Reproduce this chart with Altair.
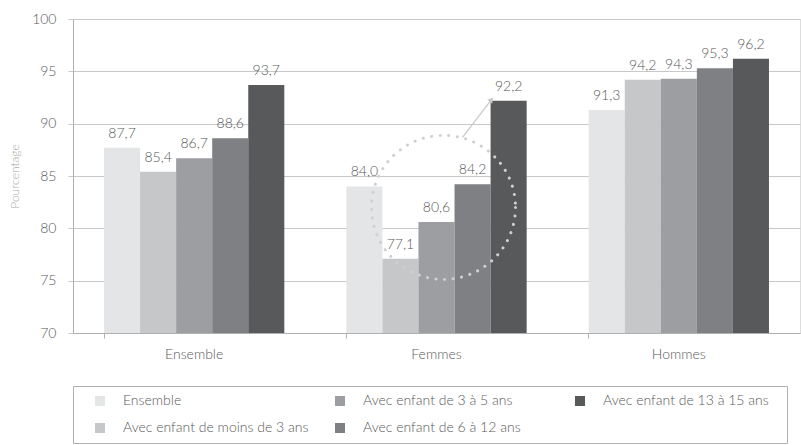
import altair as alt
import pandas as pd

groups = ["Ensemble", "Femmes", "Hommes"]
series = [
    "Ensemble",
    "Avec enfant de moins de 3 ans",
    "Avec enfant de 3 à 5 ans",
    "Avec enfant de 6 à 12 ans",
    "Avec enfant de 13 à 15 ans",
]
vals_ensemble = [87.7, 85.4, 86.7, 88.6, 93.7]
vals_femmes = [84.0, 77.1, 80.6, 84.2, 92.2]
vals_hommes = [91.3, 94.2, 94.3, 95.3, 96.2]
colors = ["#e4e5e6", "#c6c7c9", "#9d9ea2", "#7f8084", "#58595b"]

rows = []
for g, vals in zip(groups, [vals_ensemble, vals_femmes, vals_hommes]):
    for s, v in zip(series, vals):
        rows.append({"groupe": g, "serie": s, "valeur": v})
df = pd.DataFrame(rows)

FONT = "Lato"
TXT = "#595959"

x_enc = alt.X("groupe:N", sort=groups, title=None,
              scale=alt.Scale(paddingInner=0.256, paddingOuter=0.128),
              axis=alt.Axis(labelAngle=0, labelFontSize=14, labelColor=TXT,
                            labelPadding=9, tickSize=5, tickColor="#b0b0b0",
                            domainColor="#b0b0b0", bandPosition=0,
                            labelFont=FONT, labelFontWeight=300))
y_scale = alt.Scale(domain=[70, 100], zero=False, nice=False)
y_enc = alt.Y("valeur:Q", scale=y_scale, title="Pourcentage",
              axis=alt.Axis(values=[70, 75, 80, 85, 90, 95, 100], tickSize=5,
                            tickColor="#c8c8c8", gridColor="#c8c8c8",
                            domainColor="#b0b0b0", labelFontSize=14,
                            labelColor=TXT, labelPadding=12, labelFont=FONT,
                            labelFontWeight=300,
                            titleFontSize=12, titleColor="#aaaaaa",
                            titleFontWeight=300, titleFont=FONT,
                            titleX=-59, titleY=157, titleAngle=-90,
                            titleAlign="center", titleBaseline="middle"))

base = alt.Chart(df)

bars = base.mark_bar().encode(
    x=x_enc,
    xOffset=alt.XOffset("serie:N", sort=series, scale=alt.Scale(paddingInner=0, paddingOuter=0)),
    y=y_enc,
    y2=alt.Y2(datum=70),
    color=alt.Color("serie:N", scale=alt.Scale(domain=series, range=colors),
                    legend=alt.Legend(title="\u00a0", titleOrient="right", titlePadding=10,
                                      titleFontSize=8,
                                      orient="none", legendX=0, legendY=367,
                                      columns=3, gridAlign="all", symbolType="square",
                                      symbolSize=100, symbolStrokeWidth=0,
                                      symbolOffset=12, labelOffset=16,
                                      labelFontSize=14, labelColor=TXT, labelFont=FONT,
                                      labelFontWeight=300,
                                      rowPadding=13, columnPadding=12, padding=8,
                                      strokeColor="#b0b0b0", labelLimit=400)),
)

labels = base.mark_text(baseline="bottom", dy=-7, fontSize=14, color=TXT, font=FONT,
                        fontWeight=300).encode(
    x=alt.X("groupe:N", sort=groups),
    xOffset=alt.XOffset("serie:N", sort=series),
    y=alt.Y("valeur:Q", scale=y_scale),
    text="lbl:N",
).transform_calculate(lbl="replace(format(datum.valeur, '.1f'), '.', ',')")

# annotation: dotted circle around Femmes bars and arrow to 92,2
ann_circle_df = pd.DataFrame({"groupe": ["Femmes"], "valeur": [82.0]})
ann_arrow_df = pd.DataFrame({"groupe": ["Femmes"], "y1": [88.7], "y2": [92.3]})

circle = alt.Chart(ann_circle_df).mark_point(
    shape="circle", size=20736, filled=False, color="#d0d0d0", strokeWidth=3,
    strokeDash=[0.1, 8.5], strokeCap="round", xOffset=7, opacity=1,
).encode(x=alt.X("groupe:N", sort=groups), y=alt.Y("valeur:Q", scale=y_scale))

arrow_line = alt.Chart(ann_arrow_df).mark_rule(
    color="#c8c8c8", strokeWidth=1.2, xOffset=26, x2Offset=55,
).encode(x=alt.X("groupe:N", sort=groups), x2="groupe:N",
         y=alt.Y("y1:Q", scale=y_scale), y2="y2:Q")

arrow_head = alt.Chart(ann_arrow_df).mark_point(
    shape="triangle-up", size=40, filled=True, color="#c8c8c8", angle=39,
    xOffset=55, opacity=1,
).encode(x=alt.X("groupe:N", sort=groups), y=alt.Y("y2:Q", scale=y_scale))

chart = alt.layer(bars, labels, circle, arrow_line, arrow_head).properties(
    width=727, height=314,
    autosize=alt.AutoSizeParams(type="none"),
    padding={"left": 73, "top": 19, "right": 1, "bottom": 112},
).configure_view(stroke="#b0b0b0").configure(font=FONT)

chart.save("out.html", embed_options={"renderer": "svg", "actions": False})
